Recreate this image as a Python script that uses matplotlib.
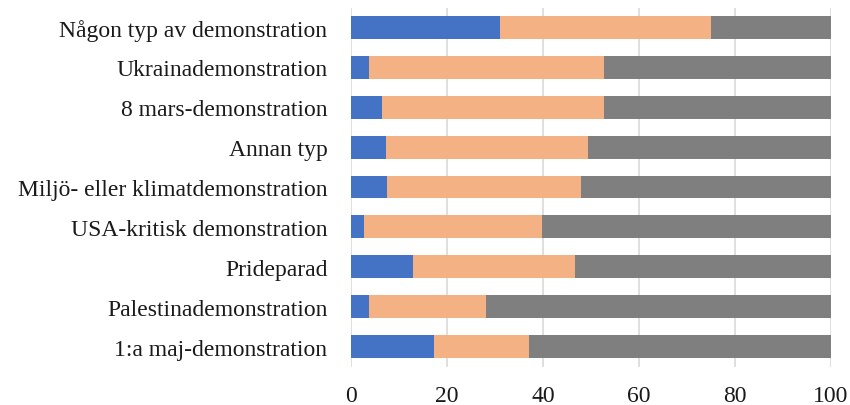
import matplotlib
matplotlib.use("Agg")
import matplotlib.pyplot as plt

categories = [
    "Någon typ av demonstration",
    "Ukrainademonstration",
    "8 mars-demonstration",
    "Annan typ",
    "Miljö- eller klimatdemonstration",
    "USA-kritisk demonstration",
    "Prideparad",
    "Palestinademonstration",
    "1:a maj-demonstration",
]
blue_vals = [31.0, 3.7, 6.5, 7.3, 7.5, 2.7, 12.9, 3.7, 17.3]
orange_vals = [44.0, 49.0, 46.2, 42.1, 40.4, 37.1, 33.8, 24.4, 19.8]
gray_vals = [25.0, 47.3, 47.3, 50.6, 52.1, 60.2, 53.3, 71.9, 62.9]
xticks = [0, 20, 40, 60, 80, 100]

plt.rcParams['font.family'] = ['Liberation Serif', 'DejaVu Serif']

fig = plt.figure(figsize=(8.5, 4.06), dpi=100)
ax = fig.add_axes([351/850, 1 - 367.5/406, 480/850, 359/406])

y = list(range(len(categories)))
h = 1 / 1.75
lefts2 = [b for b in blue_vals]
lefts3 = [b + o for b, o in zip(blue_vals, orange_vals)]
ax.barh(y, blue_vals, height=h, color="#4472C4", zorder=3)
ax.barh(y, orange_vals, left=lefts2, height=h, color="#F4B183", zorder=3)
ax.barh(y, gray_vals, left=lefts3, height=h, color="#7F7F7F", zorder=3)

ax.set_ylim(len(categories) - 0.5, -0.5)
ax.set_xlim(0, 100)
ax.set_yticks(y)
ax.set_yticklabels(categories, fontsize=17, color="#1a1a1a")
ax.set_xticks(xticks)
ax.set_xticklabels([str(t) for t in xticks], fontsize=17, color="#1a1a1a")
ax.tick_params(axis='both', length=0)
ax.tick_params(axis='y', pad=17)
ax.tick_params(axis='x', pad=13)
for s in ax.spines.values():
    s.set_visible(False)
ax.grid(axis='x', color="#D9D9D9", linewidth=1.2, zorder=0)

fig.savefig("out.png", dpi=100)
